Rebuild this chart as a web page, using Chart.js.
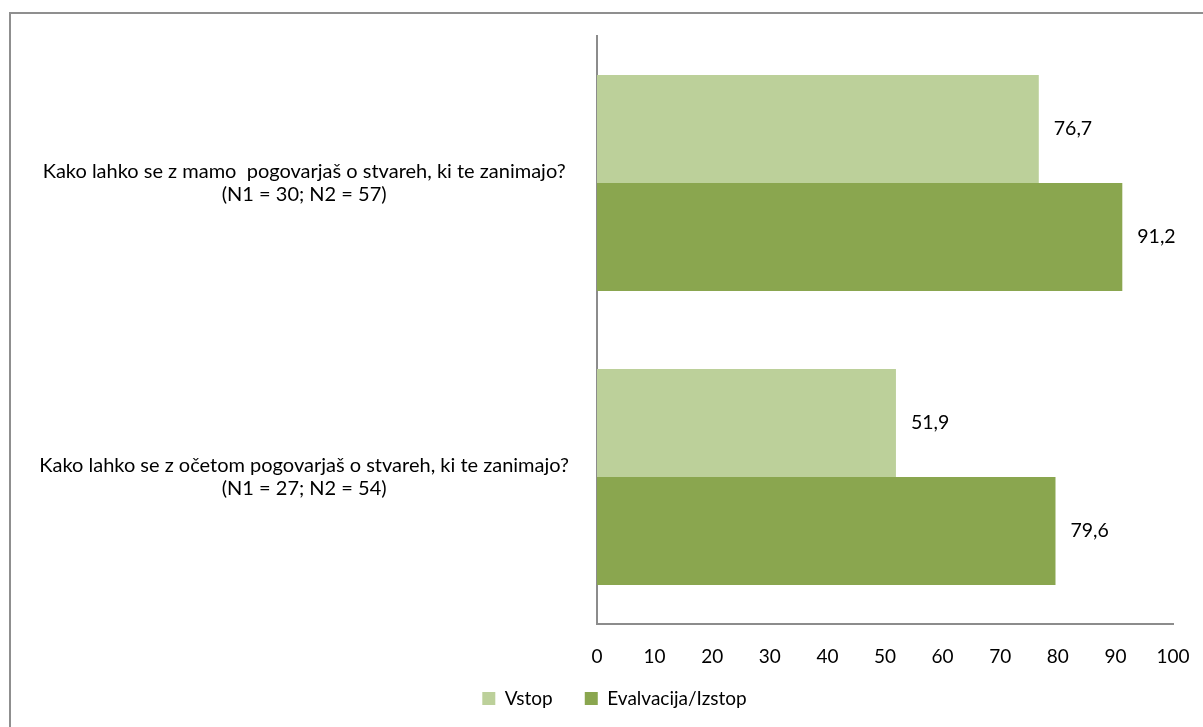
<!DOCTYPE html>
<html>
<head>
<meta charset="utf-8">
<script src="https://cdn.jsdelivr.net/npm/chart.js@4/dist/chart.umd.min.js"></script>
<style>
  html, body { margin: 0; padding: 0; background: #fff; }
  #wrap { position: relative; width: 1203px; height: 727px; }
</style>
</head>
<body>
<div id="wrap"><canvas id="chart" width="1203" height="727"></canvas></div>
<script>
// Data
const categories = [
  ['Kako lahko se z mamo  pogovarjaš o stvareh, ki te zanimajo?', '(N1 = 30; N2 = 57)'],
  ['Kako lahko se z očetom pogovarjaš o stvareh, ki te zanimajo?', '(N1 = 27; N2 = 54)']
];
const vstopValues = [76.7, 51.9];
const izstopValues = [91.2, 79.6];
const seriesNames = ['Vstop', 'Evalvacija/Izstop'];
const xTicks = [0, 10, 20, 30, 40, 50, 60, 70, 80, 90, 100];

const FONT = 'Lato, "Open Sans", sans-serif';
const axisColor = '#8c8c8c';

// outer frame (cut by the window on the right and bottom)
const framePlugin = {
  id: 'frame',
  beforeDraw(chart) {
    const ctx = chart.ctx;
    ctx.save();
    ctx.strokeStyle = '#8f8f8f';
    ctx.lineWidth = 2;
    ctx.strokeRect(10, 13, 1400, 1000);
    ctx.restore();
  }
};

// legend sits a bit right of the canvas centre and a little higher in the original
const legendShift = {
  id: 'legendShift',
  afterLayout(chart) {
    chart.legend.left += 28;
    chart.legend.right += 28;
    chart.legend.top -= 15;
    chart.legend.bottom -= 15;
  }
};

// value labels right of each bar
const valueLabels = {
  id: 'valueLabels',
  afterDatasetsDraw(chart) {
    const ctx = chart.ctx;
    ctx.save();
    ctx.font = '19.5px ' + FONT;
    ctx.fillStyle = '#000';
    ctx.textAlign = 'left';
    ctx.textBaseline = 'middle';
    chart.data.datasets.forEach((ds, i) => {
      chart.getDatasetMeta(i).data.forEach((bar, j) => {
        const txt = ds.data[j].toFixed(1).replace('.', ',');
        ctx.fillText(txt, bar.x + 15, bar.y);
      });
    });
    ctx.restore();
  }
};

new Chart(document.getElementById('chart'), {
  type: 'bar',
  data: {
    labels: categories,
    datasets: [
      {
        label: seriesNames[0],
        data: vstopValues,
        backgroundColor: '#bcd09a'
      },
      {
        label: seriesNames[1],
        data: izstopValues,
        backgroundColor: '#8aa64f'
      }
    ]
  },
  options: {
    indexAxis: 'y',
    responsive: false,
    animation: false,
    categoryPercentage: 0.735,
    barPercentage: 1,
    layout: {
      padding: { top: 36, right: 30, bottom: -6, left: 0 }
    },
    plugins: {
      tooltip: { enabled: false },
      legend: {
        position: 'bottom',
        labels: {
          boxWidth: 13,
          boxHeight: 13,
          padding: 32,
          color: '#000',
          font: { family: FONT, size: 19, lineHeight: 1 }
        }
      }
    },
    scales: {
      x: {
        min: 0,
        max: 100,
        afterBuildTicks(axis) {
          axis.ticks = xTicks.map(v => ({ value: v }));
        },
        afterFit(axis) {
          axis.height = 48;
          axis.paddingLeft = 0;
          axis.paddingRight = 0;
        },
        grid: { display: false, drawTicks: false },
        border: { display: true, color: axisColor, width: 2 },
        ticks: {
          padding: 21,
          color: '#000',
          font: { family: FONT, size: 19 }
        }
      },
      y: {
        afterFit(axis) {
          axis.width = 597;
          axis.paddingTop = 0;
          axis.paddingBottom = 0;
        },
        grid: { display: false, drawTicks: false },
        border: { display: true, color: axisColor, width: 2 },
        ticks: {
          crossAlign: 'center',
          padding: 28,
          color: '#000',
          font: { family: FONT, size: 20, lineHeight: 1.15 }
        }
      }
    }
  },
  plugins: [framePlugin, legendShift, valueLabels]
});
</script>
</body>
</html>
